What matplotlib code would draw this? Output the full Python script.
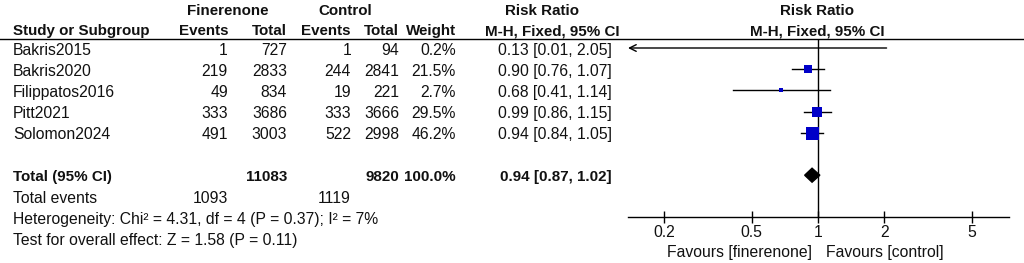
import matplotlib
matplotlib.use("Agg")
from matplotlib import pyplot as plt
from matplotlib.patches import Polygon

plt.rcParams['font.family'] = ['Liberation Sans', 'DejaVu Sans']

# study data
studies = ["Bakris2015", "Bakris2020", "Filippatos2016", "Pitt2021", "Solomon2024"]
fin_events = [1, 219, 49, 333, 491]
fin_total = [727, 2833, 834, 3686, 3003]
ctl_events = [1, 244, 19, 333, 522]
ctl_total = [94, 2841, 221, 3666, 2998]
weights = [0.2, 21.5, 2.7, 29.5, 46.2]
rr = [0.13, 0.90, 0.68, 0.99, 0.94]
rr_lo = [0.01, 0.76, 0.41, 0.86, 0.84]
rr_hi = [2.05, 1.07, 1.14, 1.15, 1.05]

# pooled result
tot_fin, tot_ctl = 11083, 9820
ev_fin, ev_ctl = 1093, 1119
pooled, pooled_lo, pooled_hi = 0.94, 0.87, 1.02
het_text = "Heterogeneity: Chi\u00b2 = 4.31, df = 4 (P = 0.37); I\u00b2 = 7%"
test_text = "Test for overall effect: Z = 1.58 (P = 0.11)"

xticks = [0.2, 0.5, 1, 2, 5]
xticklabels = ["0.2", "0.5", "1", "2", "5"]

W, H = 1024, 263
ROW = 21.2      # pixel height of one row
Y0 = 48         # pixel y of first study row


def px2row(y):
    return (y - Y0) / ROW


fig = plt.figure(figsize=(W / 100, H / 100), dpi=100)

# table axes: x in pixels, y in rows
tab = fig.add_axes([0, 0, 1, 1])
tab.set_xlim(0, W)
tab.set_ylim(px2row(H), px2row(0))
tab.axis('off')

fs = 11.3
fb = 10.9
col = '#111111'

# header
tab.text(228, px2row(11), "Finerenone", ha='center', va='center', fontsize=fb, fontweight='bold', color=col)
tab.text(345, px2row(11), "Control", ha='center', va='center', fontsize=fb, fontweight='bold', color=col)
tab.text(542, px2row(11), "Risk Ratio", ha='center', va='center', fontsize=fb, fontweight='bold', color=col)
tab.text(817, px2row(11), "Risk Ratio", ha='center', va='center', fontsize=fb, fontweight='bold', color=col)
hy = px2row(31)
tab.text(13, hy, "Study or Subgroup", ha='left', va='center', fontsize=fb, fontweight='bold', color=col)
for x, lab in [(228, "Events"), (287, "Total"), (351, "Events"), (399, "Total"), (456, "Weight")]:
    tab.text(x, hy, lab, ha='right', va='center', fontsize=fb, fontweight='bold', color=col)
tab.text(552, hy, "M-H, Fixed, 95% CI", ha='center', va='center', fontsize=fb, fontweight='bold', color=col)
tab.text(817, hy, "M-H, Fixed, 95% CI", ha='center', va='center', fontsize=fb, fontweight='bold', color=col)
tab.plot([0, W], [px2row(38.5)] * 2, color='black', lw=1)

# study rows
for i, name in enumerate(studies):
    y = i + 0.1
    tab.text(13, y, name, ha='left', va='center', fontsize=fs, color=col)
    tab.text(228, y, str(fin_events[i]), ha='right', va='center', fontsize=fs, color=col)
    tab.text(287, y, str(fin_total[i]), ha='right', va='center', fontsize=fs, color=col)
    tab.text(351, y, str(ctl_events[i]), ha='right', va='center', fontsize=fs, color=col)
    tab.text(399, y, str(ctl_total[i]), ha='right', va='center', fontsize=fs, color=col)
    tab.text(456, y, "%.1f%%" % weights[i], ha='right', va='center', fontsize=fs, color=col)
    tab.text(612, y, "%.2f [%.2f, %.2f]" % (rr[i], rr_lo[i], rr_hi[i]),
             ha='right', va='center', fontsize=fs, color=col)

# totals
ty = len(studies) + 1 + 0.1
tab.text(13, ty, "Total (95% CI)", ha='left', va='center', fontsize=fb, fontweight='bold', color=col)
tab.text(287, ty, str(tot_fin), ha='right', va='center', fontsize=fb, fontweight='bold', color=col)
tab.text(399, ty, str(tot_ctl), ha='right', va='center', fontsize=fb, fontweight='bold', color=col)
tab.text(456, ty, "100.0%", ha='right', va='center', fontsize=fb, fontweight='bold', color=col)
tab.text(612, ty, "%.2f [%.2f, %.2f]" % (pooled, pooled_lo, pooled_hi),
         ha='right', va='center', fontsize=fb, fontweight='bold', color=col)
tab.text(13, ty + 1, "Total events", ha='left', va='center', fontsize=fs, color=col)
tab.text(228, ty + 1, str(ev_fin), ha='right', va='center', fontsize=fs, color=col)
tab.text(351, ty + 1, str(ev_ctl), ha='right', va='center', fontsize=fs, color=col)
tab.text(13, ty + 2, het_text, ha='left', va='center', fontsize=fs, color=col)
tab.text(13, ty + 3, test_text, ha='left', va='center', fontsize=fs, color=col)

tab.text(812, px2row(252), "Favours [finerenone]", ha='right', va='center', fontsize=fs, color=col)
tab.text(826, px2row(252), "Favours [control]", ha='left', va='center', fontsize=fs, color=col)

# forest axes
left_px, right_px = 628, 1009
top_px, bot_px = 38.5, 217
fx = fig.add_axes([left_px / W, 1 - bot_px / H, (right_px - left_px) / W, (bot_px - top_px) / H])
fx.patch.set_alpha(0)
fx.set_xscale('log')
xmin, xmax = 0.137, 7.38
fx.set_xlim(xmin, xmax)
fx.set_ylim(px2row(bot_px), px2row(top_px))
for s in ['top', 'right', 'left']:
    fx.spines[s].set_visible(False)
fx.spines['bottom'].set_linewidth(1)
fx.set_yticks([])
fx.set_xticks(xticks)
fx.set_xticklabels(xticklabels)
fx.minorticks_off()
fx.tick_params(axis='x', direction='inout', length=9, width=1, pad=1.5, labelsize=fs, labelcolor=col)
fx.axvline(1, color='black', lw=1)

wmax = max(weights)
for i in range(len(studies)):
    lo = max(rr_lo[i], xmin)
    if rr_lo[i] < xmin:
        fx.annotate("", xy=(xmin, i), xytext=(rr_hi[i], i),
                    arrowprops=dict(arrowstyle='->', lw=1, color='black',
                                    shrinkA=0, shrinkB=0, mutation_scale=12))
    else:
        fx.plot([lo, rr_hi[i]], [i, i], color='black', lw=1)
    if xmin < rr[i] < xmax:
        ms = 13 * 0.72 * (weights[i] / wmax) ** 0.5
        fx.plot(rr[i], i, marker='s', ms=ms, color='#0000c8', mec='#0000c8', mew=0)

# pooled diamond
dy = len(studies) + 1
h = 7 / ROW
fx.add_patch(Polygon([(pooled_lo, dy), (pooled, dy - h), (pooled_hi, dy), (pooled, dy + h)],
                     closed=True, facecolor='black', edgecolor='black'))

plt.savefig("out.png", dpi=100)
